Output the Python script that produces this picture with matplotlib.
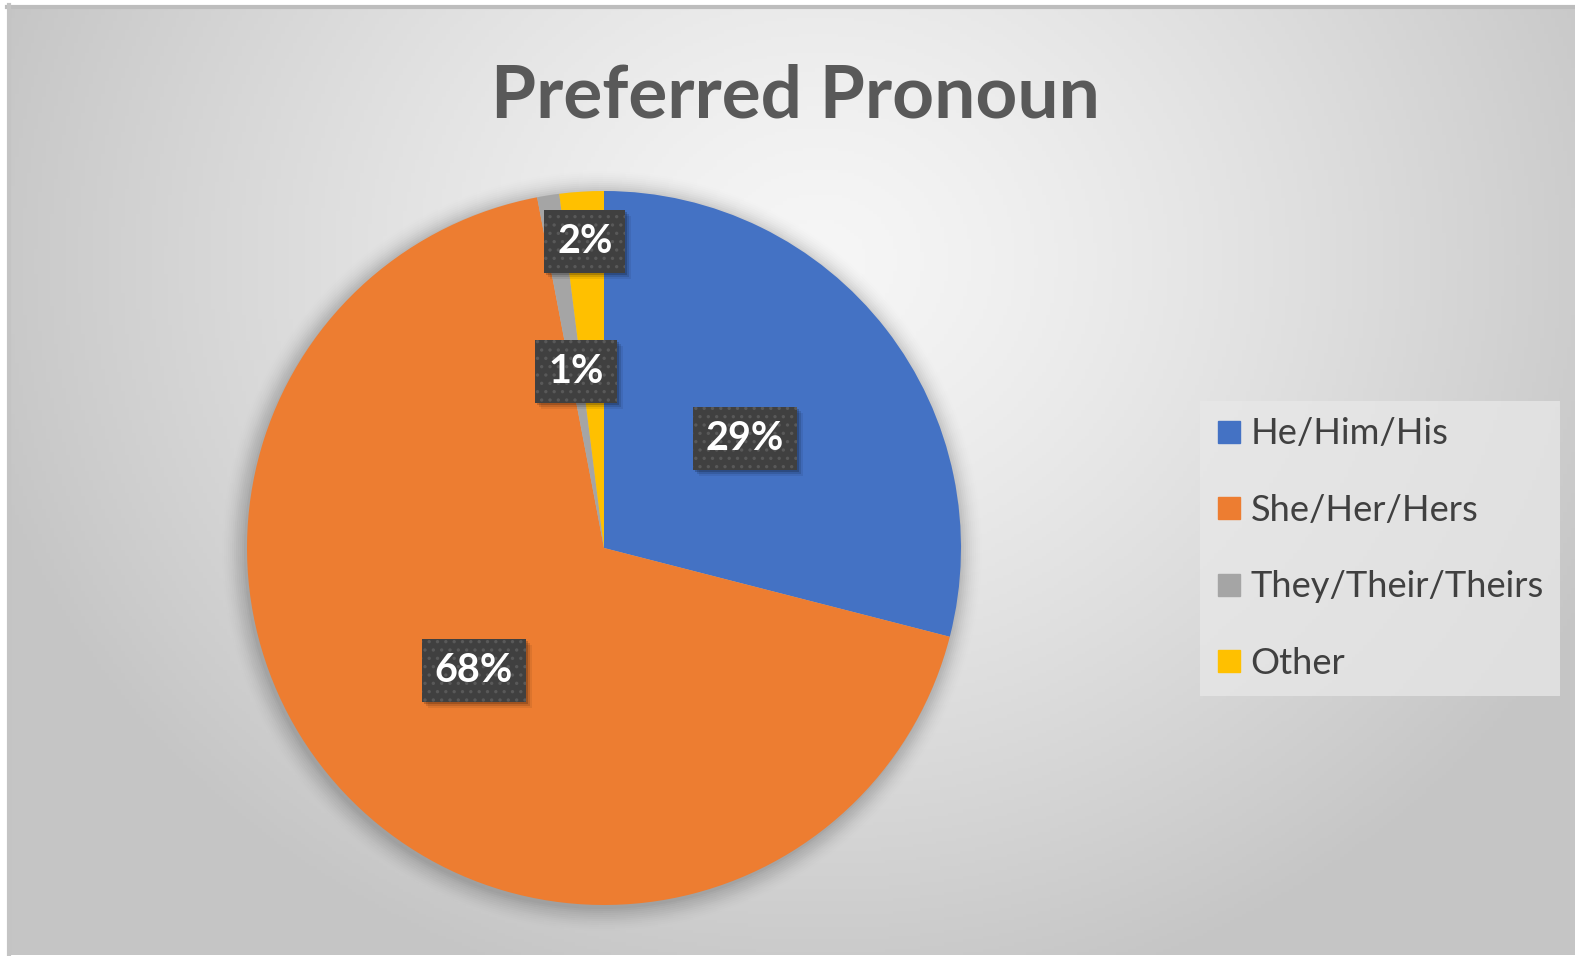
import numpy as np
import matplotlib
matplotlib.use("Agg")
import matplotlib.pyplot as plt
from matplotlib.lines import Line2D
from matplotlib.patches import Rectangle

categories = ["He/Him/His", "She/Her/Hers", "They/Their/Theirs", "Other"]
values = [29, 68, 1, 2]
labels = ["29%", "68%", "1%", "2%"]
colors = ["#4472C4", "#ED7D31", "#A5A5A5", "#FFC000"]
label_dist = [0.5, 0.5, 0.5, 0.86]
title = "Preferred Pronoun"

W, H = 1575, 956
fig = plt.figure(figsize=(W / 100, H / 100), dpi=100)
fig.patch.set_facecolor("white")
plt.rcParams["hatch.linewidth"] = 1.2

# background gradient panel
bg = fig.add_axes([0, 0, 1, 1])
bg.set_xlim(0, W)
bg.set_ylim(0, H)
bg.axis("off")
xx, yy = np.meshgrid(np.linspace(7, W, 400), np.linspace(1, H - 5, 300))
cx, cy = 820, H - 260
t = np.sqrt(((xx - cx) / 860) ** 2 + ((yy - cy) / 760) ** 2)
t = np.clip(t, 0, 1) ** 1.3
g = (0.965 - t * (0.965 - 0.775))
img = np.dstack([g, g, g])
bg.imshow(img, extent=(7, W, 1, H - 5), origin="lower", aspect="auto", zorder=0)
bg.plot([7, W], [H - 7, H - 7], color="#bdbdbd", lw=3, zorder=1)
bg.plot([9, 9], [1, H - 5], color="#c4c4c4", lw=3, zorder=1)

ax = fig.add_axes([0, 0, 1, 1])
ax.set_facecolor("none")
ax.axis("off")

center = (604, H - 548)
radius = 357

# soft shadow around pie
for i, a in enumerate(np.linspace(0.03, 0.004, 12)):
    c = plt.Circle((center[0] - 2, center[1] - 3), radius + 1 + i * 2.0,
                   color="black", alpha=a, lw=0, zorder=1)
    ax.add_patch(c)

wedges, _ = ax.pie(values, colors=colors, startangle=90, counterclock=False,
                   center=center, radius=radius, frame=True,
                   wedgeprops=dict(linewidth=0, zorder=2))
ax.set_xlim(0, W)
ax.set_ylim(0, H)
ax.axis("off")

font = ["Lato", "DejaVu Sans"]
texts = []
for w, lab, d in zip(wedges, labels, label_dist):
    ang = np.deg2rad((w.theta1 + w.theta2) / 2)
    x = center[0] + d * radius * np.cos(ang)
    y = center[1] + d * radius * np.sin(ang)
    texts.append(ax.text(x, y, lab, ha="center", va="center", color="white",
                         fontsize=28.5, fontweight="bold", family=font, zorder=5,
                         bbox=dict(boxstyle="square,pad=0.33", facecolor="#404040",
                                   edgecolor="#595959", hatch="..", linewidth=0)))

fig.text(795, H - 117, title, transform=None, ha="center", va="baseline",
         fontsize=52.5, fontweight="bold", color="#595959", family=font)

handles = [Line2D([0], [0], marker="s", linestyle="none", markersize=16.5,
                  markerfacecolor=c, markeredgecolor=c) for c in colors]
leg = ax.legend(handles, categories, loc="upper left",
                bbox_to_anchor=(1200 / W, 1 - 401 / H), borderaxespad=0,
                frameon=True, fancybox=False, handlelength=0.72,
                handletextpad=0.22, labelspacing=1.2, borderpad=0.45,
                prop=dict(family=font, size=26.1))
leg.get_frame().set_facecolor("#e8e8e8")
leg.get_frame().set_alpha(0.75)
leg.get_frame().set_linewidth(0)
for t_ in leg.get_texts():
    t_.set_color("#404040")

# soft drop shadows behind the label boxes (pixel space == data space here)
fig.canvas.draw()
for txt in texts:
    bb = txt.get_bbox_patch().get_window_extent()
    for (ox, oy, a) in [(2, -2, 0.18), (4, -4, 0.12), (6, -6, 0.07)]:
        ax.add_patch(Rectangle((bb.x0 + ox, bb.y0 + oy), bb.width, bb.height,
                               facecolor="black", alpha=a, linewidth=0, zorder=4))

fig.savefig("out.png", dpi=100, facecolor="white")
